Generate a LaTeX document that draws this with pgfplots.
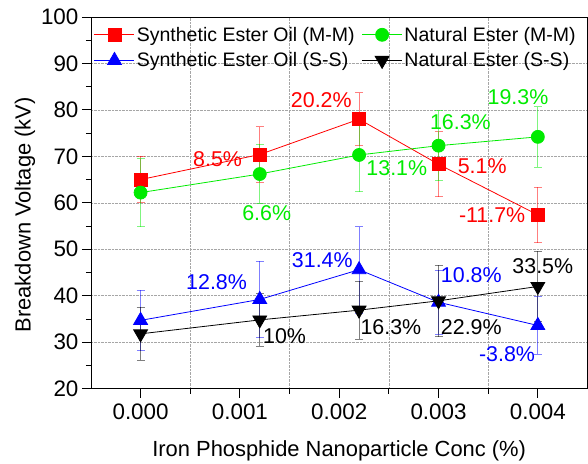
\documentclass[border=0pt]{standalone}
\usepackage{fontspec}
\setmainfont{Liberation Sans}
\usepackage{pgfplots}
\pgfplotsset{compat=1.18}
\definecolor{cred}{RGB}{255,0,0}
\definecolor{cgreen}{RGB}{0,235,0}
\definecolor{cblue}{RGB}{0,0,255}
\begin{document}
\begin{tikzpicture}
\pgfplotsset{
  commonax/.style={
    scale only axis, width=497bp, height=372bp,
    xmin=-0.5, xmax=4.5, ymin=20, ymax=100,
  }
}
\begin{axis}[commonax, name=main,
  /pgf/number format/assume math mode=true,
  tick label style={font=\fontsize{22.5}{26}\selectfont},
  x tick label style={yshift=-3bp},
  label style={font=\fontsize{22}{26}\selectfont},
  xlabel={Iron Phosphide Nanoparticle Conc (\%)},
  ylabel={Breakdown Voltage (kV)},
  xtick={0,1,2,3,4},
  xticklabels={0.000,0.001,0.002,0.003,0.004},
  minor xtick={0.5,1.5,2.5,3.5},
  ytick={20,30,...,100},
  minor ytick={25,35,...,95},
  xtick pos=bottom, ytick pos=left,
  tick align=outside,
  major tick length=9bp, minor tick length=5bp,
  tick style={black, line width=0.8bp},
  axis line style={line width=0.8bp},
  xminorgrids, ymajorgrids,
  minor x grid style={gray!70, densely dotted, line width=0.6bp},
  major y grid style={gray!70, densely dotted, line width=0.6bp},
  major x grid style={draw=none},
  xlabel style={yshift=-14bp},
  ylabel style={yshift=-1bp, xshift=-12bp},
  legend columns=2,
  legend cell align=left,
  legend style={at={(rel axis cs:0.006,0.979)}, anchor=north west, draw=none, fill=none,
    font=\fontsize{19.6}{23}\selectfont, inner sep=0pt, row sep=6bp,
    /tikz/every even column/.append style={column sep=5bp}},
  legend image code/.code={\draw[mark repeat=2,mark phase=2,#1] plot coordinates {(0bp,0bp) (20bp,0bp) (40bp,0bp)};},
  error bars/y dir=both, error bars/y explicit,
]
% Synthetic Ester Oil (M-M)
\addplot[cred, line width=0.8bp, mark=square*, mark size=6.5bp, mark options={solid},
  error bars/error bar style={cred, opacity=0.5, line width=0.8bp},
  error bars/error mark options={rotate=90, mark size=4bp, cred, opacity=0.5, line width=0.8bp}]
  coordinates {(0,65.0) +- (0,5.0) (1.2,70.4) +- (0,6.0) (2.2,78.0) +- (0,5.7) (3,68.3) +- (0,7.0) (4,57.4) +- (0,6.0)};
\addlegendentry{Synthetic Ester Oil (M-M)}
% Natural Ester (M-M)
\addplot[cgreen, line width=0.8bp, mark=*, mark size=6.5bp,
  error bars/error bar style={cgreen, opacity=0.5, line width=0.8bp},
  error bars/error mark options={rotate=90, mark size=4bp, cgreen, opacity=0.5, line width=0.8bp}]
  coordinates {(0,62.2) +- (0,7.3) (1.2,66.2) +- (0,6.4) (2.2,70.3) +- (0,7.9) (3,72.3) +- (0,7.5) (4,74.2) +- (0,6.5)};
\addlegendentry{Natural Ester (M-M)}
% Synthetic Ester Oil (S-S)
\addplot[cblue, line width=0.8bp, mark=triangle*, mark size=8bp,
  error bars/error bar style={cblue, opacity=0.5, line width=0.8bp},
  error bars/error mark options={rotate=90, mark size=4bp, cblue, opacity=0.5, line width=0.8bp}]
  coordinates {(0,34.7) +- (0,6.5) (1.2,39.2) +- (0,8.2) (2.2,45.6) +- (0,9.3) (3,38.6) +- (0,6.9) (4,33.6) +- (0,6.2)};
\addlegendentry{Synthetic Ester Oil (S-S)}
% Natural Ester (S-S)
\addplot[black, line width=0.8bp, mark=triangle*, mark size=8bp, mark options={rotate=180},
  error bars/error bar style={black, opacity=0.5, line width=0.8bp},
  error bars/error mark options={rotate=90, mark size=4bp, black, opacity=0.5, line width=0.8bp}]
  coordinates {(0,31.8) +- (0,5.7) (1.2,34.8) +- (0,5.7) (2.2,36.9) +- (0,6.2) (3,38.9) +- (0,7.7) (4,42.0) +- (0,7.6)};
\addlegendentry{Natural Ester (S-S)}
% annotations
\begin{scope}[every node/.style={font=\fontsize{21.5}{24}\selectfont, inner sep=0pt}]
\node[cred] at (axis cs:0.775,69.4) {8.5\%};
\node[cred] at (axis cs:1.82,82.1) {20.2\%};
\node[cred] at (axis cs:3.44,67.9) {5.1\%};
\node[cred] at (axis cs:3.54,57.3) {-11.7\%};
\node[cgreen] at (axis cs:1.27,57.8) {6.6\%};
\node[cgreen] at (axis cs:2.58,67.5) {13.1\%};
\node[cgreen] at (axis cs:3.22,77.4) {16.3\%};
\node[cgreen] at (axis cs:3.80,82.8) {19.3\%};
\node[cblue] at (axis cs:0.765,42.9) {12.8\%};
\node[cblue] at (axis cs:1.83,47.6) {31.4\%};
\node[cblue] at (axis cs:3.33,44.4) {10.8\%};
\node[cblue] at (axis cs:3.69,27.4) {-3.8\%};
\node[black] at (axis cs:1.45,31.2) {10\%};
\node[black] at (axis cs:2.52,33.2) {16.3\%};
\node[black] at (axis cs:3.33,33.2) {22.9\%};
\node[black] at (axis cs:4.05,46.3) {33.5\%};
\end{scope}
\end{axis}
\begin{axis}[commonax, axis lines=none,
  xtick={0,1,2,3,4}, minor xtick={0.5,1.5,2.5,3.5},
  ytick={20,30,...,100}, minor ytick={25,35,...,95},
  xticklabels={}, yticklabels={},
]
\end{axis}
\pgfresetboundingbox
\path (main.south west) ++(-91bp,-75bp);
\path (main.north east) ++(0.5bp,17bp);
\end{tikzpicture}
\end{document}
